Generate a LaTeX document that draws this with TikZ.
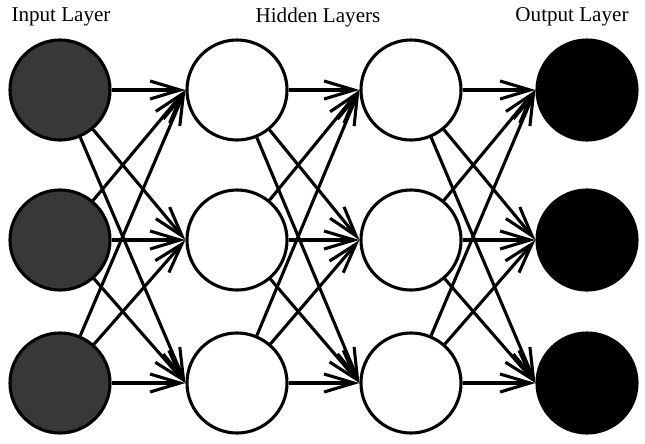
\documentclass[tikz,border=0pt]{standalone}
\usepackage{fontspec}
\setmainfont{Liberation Serif}
\usetikzlibrary{arrows.meta}
\begin{document}
\begin{tikzpicture}[x=0.025cm,y=-0.025cm,
                       line width=2.2pt,
                       in node/.style={circle,fill=black!78,draw,minimum size=2.5cm,inner sep=0pt},
                       hid node/.style={circle,fill=white,draw,minimum size=2.5cm,inner sep=0pt},
                       out node/.style={circle,fill=black,draw,minimum size=2.5cm,inner sep=0pt},
                       title/.style={font=\fontsize{15}{18}\selectfont},
                       every edge/.style={draw,-{Straight Barb[length=0.75cm,width=0.45cm]}}
                      ]
  \useasboundingbox (0,0) rectangle (645,443);
  \node[title] (ti) at (61,17) {Input Layer};
  \node[title] (th) at (318,17) {Hidden Layers};
  \node[title] (to) at (572,17) {Output Layer};

  \node[in node] (i1) at (60,90) {};
  \node[in node] (i2) at (60,240) {};
  \node[in node] (i3) at (60,383) {};
  \node[hid node] (a1) at (237,90) {};
  \node[hid node] (a2) at (237,240) {};
  \node[hid node] (a3) at (237,383) {};
  \node[hid node] (b1) at (411,90) {};
  \node[hid node] (b2) at (411,240) {};
  \node[hid node] (b3) at (411,383) {};
  \node[out node] (o1) at (587,90) {};
  \node[out node] (o2) at (587,240) {};
  \node[out node] (o3) at (587,383) {};

  \path%
   (i1) edge (a1.west)
   (i1) edge (a2.west)
   (i1) edge (a3.west)
   (i2) edge (a1.west)
   (i2) edge (a2.west)
   (i2) edge (a3.west)
   (i3) edge (a1.west)
   (i3) edge (a2.west)
   (i3) edge (a3.west)
   (a1) edge (b1.west)
   (a1) edge (b2.west)
   (a1) edge (b3.west)
   (a2) edge (b1.west)
   (a2) edge (b2.west)
   (a2) edge (b3.west)
   (a3) edge (b1.west)
   (a3) edge (b2.west)
   (a3) edge (b3.west)
   (b1) edge (o1.west)
   (b1) edge (o2.west)
   (b1) edge (o3.west)
   (b2) edge (o1.west)
   (b2) edge (o2.west)
   (b2) edge (o3.west)
   (b3) edge (o1.west)
   (b3) edge (o2.west)
   (b3) edge (o3.west);
 \end{tikzpicture}
\end{document}
